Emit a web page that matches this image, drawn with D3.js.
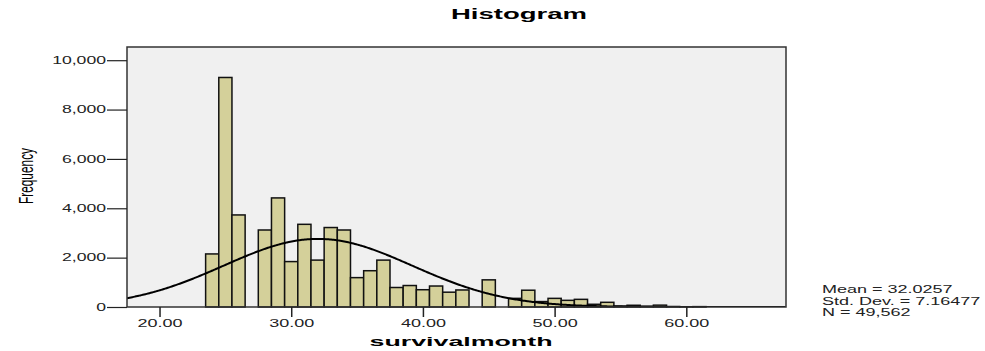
<!DOCTYPE html>
<html>
<head>
<meta charset="utf-8">
<script src="https://cdn.jsdelivr.net/npm/d3@7"></script>
<style>
  html, body { margin: 0; padding: 0; background: #ffffff; }
  svg { display: block; font-family: "Liberation Sans", Arial, sans-serif; }
</style>
</head>
<body>
<svg id="chart" width="985" height="351"></svg>
<script>
// Bin centres (width 1 month) and their frequencies
const binCenters = [24, 25, 26, 27, 28, 29, 30, 31, 32, 33, 34, 35, 36, 37, 38, 39, 40, 41, 42, 43,
                    44, 45, 46, 47, 48, 49, 50, 51, 52, 53, 54, 55, 56, 57, 58, 59, 60, 61];
const counts     = [2150, 9300, 3730, 0, 3120, 4420, 1840, 3350, 1900, 3220, 3120, 1190, 1470, 1900, 790, 870, 700, 850, 600, 690,
                    0, 1100, 0, 350, 680, 220, 350, 270, 310, 110, 190, 40, 70, 30, 75, 20, 10, 15];
const binWidth = 1;

// Summary statistics shown beside the plot
const statMean = 32.0257;
const statSd = 7.16477;
const statN = 49562;
const statLines = ["Mean = 32.0257", "Std. Dev. = 7.16477", "N = 49,562"];

// Axis ticks
const xTicks = [20, 30, 40, 50, 60];
const yTicks = [0, 2000, 4000, 6000, 8000, 10000];

const svg = d3.select("#chart");
const frame = { left: 127, right: 786, top: 47, bottom: 307 };

const x = d3.scaleLinear().domain([17.53, 67.57]).range([frame.left, frame.right]);
const y = d3.scaleLinear().domain([0, 10535]).range([frame.bottom, frame.top]);

// Widen text horizontally by a factor, keeping its anchor
function stretch(sel, factor) {
  sel.each(function () {
    const w = this.getComputedTextLength();
    d3.select(this).attr("textLength", w * factor).attr("lengthAdjust", "spacingAndGlyphs");
  });
}

// Plot background
svg.append("rect")
  .attr("x", frame.left).attr("y", frame.top)
  .attr("width", frame.right - frame.left).attr("height", frame.bottom - frame.top)
  .attr("fill", "#f0f0f0");

svg.append("clipPath").attr("id", "plotClip")
  .append("rect")
  .attr("x", frame.left).attr("y", frame.top)
  .attr("width", frame.right - frame.left).attr("height", frame.bottom - frame.top);

// Histogram bars
const bins = binCenters.map((c, i) => ({ c, n: counts[i] })).filter(d => d.n > 0);
svg.append("g")
  .selectAll("rect")
  .data(bins)
  .join("rect")
  .attr("x", d => x(d.c - binWidth / 2))
  .attr("y", d => y(d.n))
  .attr("width", d => x(d.c + binWidth / 2) - x(d.c - binWidth / 2))
  .attr("height", d => y(0) - y(d.n))
  .attr("fill", "#d4d09a")
  .attr("stroke", "#111111")
  .attr("stroke-width", 1.5);

// Fitted normal curve scaled to counts
const pdf = v => statN * binWidth / (statSd * Math.sqrt(2 * Math.PI)) *
  Math.exp(-0.5 * Math.pow((v - statMean) / statSd, 2));
const xs = d3.range(x.domain()[0], x.domain()[1] + 0.001, 0.1);
svg.append("path")
  .datum(xs)
  .attr("clip-path", "url(#plotClip)")
  .attr("fill", "none")
  .attr("stroke", "#000000")
  .attr("stroke-width", 2)
  .attr("d", d3.line().x(v => x(v)).y(v => y(pdf(v))).curve(d3.curveBasis));

// Frame
svg.append("rect")
  .attr("x", frame.left).attr("y", frame.top)
  .attr("width", frame.right - frame.left).attr("height", frame.bottom - frame.top)
  .attr("fill", "none")
  .attr("stroke", "#333333")
  .attr("stroke-width", 1.5);

// Y axis
const yAxis = svg.append("g")
  .attr("transform", `translate(${frame.left},0)`)
  .call(d3.axisLeft(y).tickValues(yTicks).tickSize(20).tickPadding(1)
    .tickFormat(d3.format(",")));
yAxis.select(".domain").remove();
yAxis.selectAll(".tick line").attr("stroke", "#222").attr("stroke-width", 1.2);
yAxis.selectAll(".tick text")
  .attr("font-family", "Liberation Sans, Arial, sans-serif")
  .attr("font-size", 10)
  .attr("fill", "#222")
  .call(stretch, 1.76);

// X axis
const xAxis = svg.append("g")
  .attr("transform", `translate(0,${frame.bottom})`)
  .call(d3.axisBottom(x).tickValues(xTicks).tickSize(10).tickPadding(3)
    .tickFormat(d3.format(".2f")));
xAxis.select(".domain").remove();
xAxis.selectAll(".tick line").attr("stroke", "#222").attr("stroke-width", 1.5);
xAxis.selectAll(".tick text")
  .attr("font-family", "Liberation Sans, Arial, sans-serif")
  .attr("font-size", 10)
  .attr("fill", "#222")
  .call(stretch, 1.8);

// Title
svg.append("text")
  .attr("x", 519).attr("y", 19)
  .attr("text-anchor", "middle")
  .attr("font-size", 14).attr("font-weight", "bold")
  .attr("textLength", 136).attr("lengthAdjust", "spacingAndGlyphs")
  .text("Histogram");

// X axis title
svg.append("text")
  .attr("x", 461).attr("y", 346)
  .attr("text-anchor", "middle")
  .attr("font-size", 13).attr("font-weight", "bold")
  .attr("textLength", 183).attr("lengthAdjust", "spacingAndGlyphs")
  .text("survivalmonth");

// Y axis title
svg.append("text")
  .attr("transform", "translate(33,176) rotate(-90)")
  .attr("text-anchor", "middle")
  .attr("font-size", 20)
  .attr("textLength", 56).attr("lengthAdjust", "spacingAndGlyphs")
  .text("Frequency");

// Statistics block
svg.append("g")
  .selectAll("text")
  .data(statLines)
  .join("text")
  .attr("x", 822)
  .attr("y", (d, i) => 293 + i * 11.5)
  .attr("font-size", 10)
  .attr("fill", "#222")
  .text(d => d)
  .call(stretch, 1.8);
</script>
</body>
</html>
